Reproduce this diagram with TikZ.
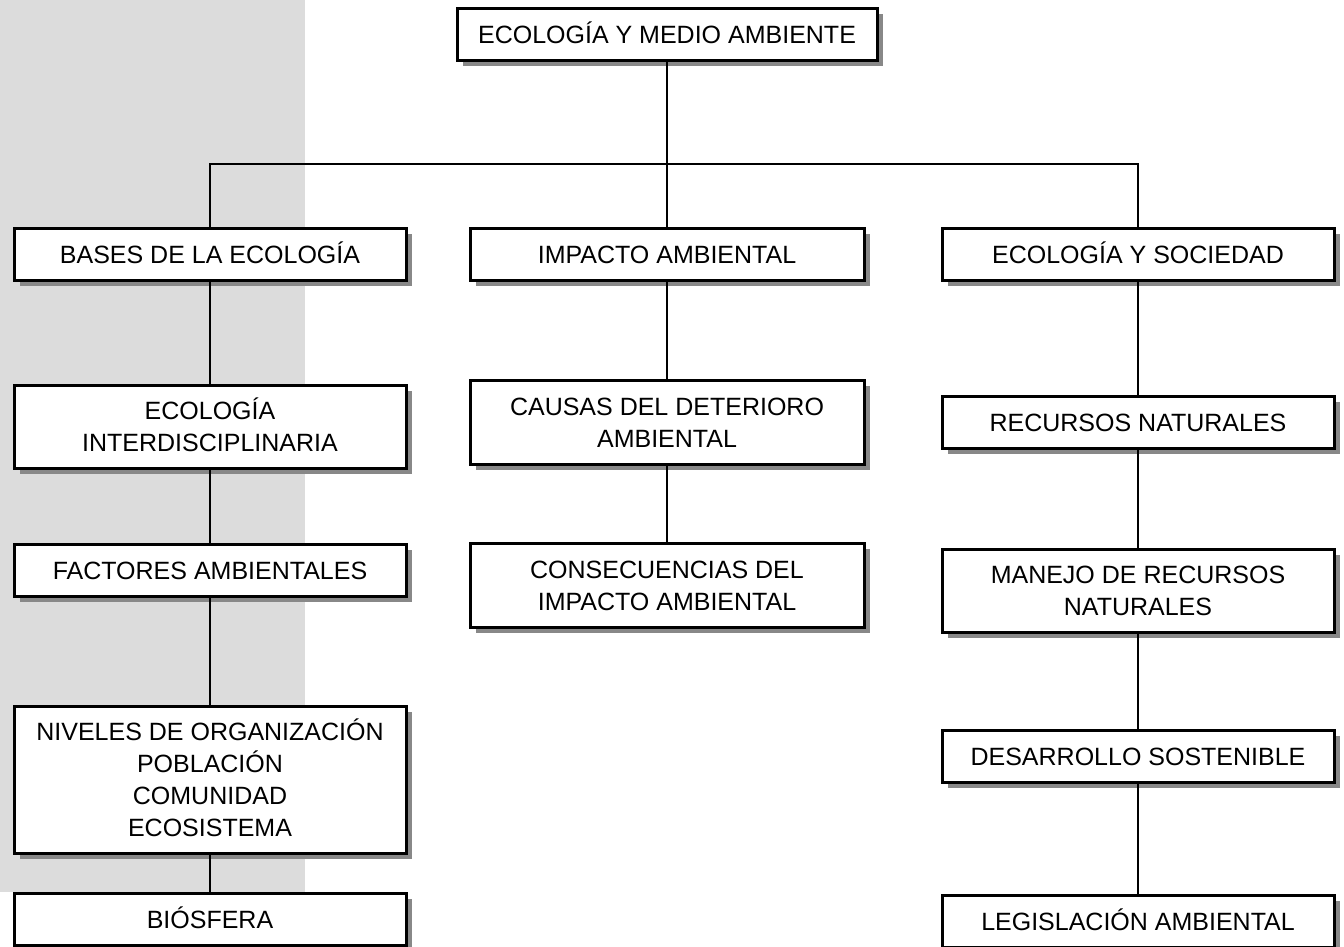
\documentclass[tikz,border=0pt]{standalone}
\usepackage{fontspec}
\setmainfont{Liberation Sans}
\usetikzlibrary{shadows}
\definecolor{band}{HTML}{DCDCDC}
\definecolor{shade}{HTML}{888888}
% uniform strut so every box centres its capitals the same way
\newcommand{\capstrut}{\rule[-4pt]{0pt}{26pt}}
\tikzset{
  topic/.style={draw=black, line width=3pt, fill=white, align=center,
    inner sep=0pt, minimum height=52pt,
    font=\fontsize{25}{32}\selectfont,
    execute at begin node=\capstrut,
    drop shadow={shadow xshift=5.5pt, shadow yshift=-5.5pt, fill=shade, opacity=1}},
  % multi-line text: capitals of first line to baseline of last, plus equal margins
  twolines/.style={text height=54pt, text depth=4pt},
  fourlines/.style={text height=118pt, text depth=4pt},
  leftbox/.style={topic, minimum width=392pt},
  midbox/.style={topic, minimum width=394pt},
  rightbox/.style={topic, minimum width=392pt},
  link/.style={draw=black, line width=2.6pt}
}
\begin{document}
\begin{tikzpicture}[x=1pt,y=-1pt]
\useasboundingbox (0,0) rectangle (1344,947);
% shaded band behind the first branch
\fill[band] (0,0) rectangle (305,892);

% root
\node[topic, minimum width=420pt] (root) at (667,34.5) {ECOLOGÍA Y MEDIO AMBIENTE};

% first branch
\node[leftbox] (bases) at (210,254.5) {BASES DE LA ECOLOGÍA};
\node[leftbox, twolines, minimum height=83pt] (inter) at (210,426.5) {ECOLOGÍA\\INTERDISCIPLINARIA};
\node[leftbox] (fact) at (210,570) {FACTORES AMBIENTALES};
\node[leftbox, fourlines, minimum height=147pt] (nivel) at (210,779.5) {NIVELES DE ORGANIZACIÓN\\POBLACIÓN\\COMUNIDAD\\ECOSISTEMA};
\node[leftbox] (bios) at (210,919.5) {BIÓSFERA};

% second branch
\node[midbox] (impact) at (667,254.5) {IMPACTO AMBIENTAL};
\node[midbox, twolines, minimum height=84pt] (causas) at (667,422) {CAUSAS DEL DETERIORO\\AMBIENTAL};
\node[midbox, twolines, minimum height=84pt] (conse) at (667,585) {CONSECUENCIAS DEL\\IMPACTO AMBIENTAL};

% third branch
\node[rightbox] (soc) at (1138,254.5) {ECOLOGÍA Y SOCIEDAD};
\node[rightbox] (recur) at (1138,422.5) {RECURSOS NATURALES};
\node[rightbox, twolines, minimum height=83pt] (manejo) at (1138,590.5) {MANEJO DE RECURSOS\\NATURALES};
\node[rightbox] (desa) at (1138,756.5) {DESARROLLO SOSTENIBLE};
\node[rightbox] (legis) at (1138,921.5) {LEGISLACIÓN AMBIENTAL};

% connectors
\coordinate (bus) at (667,164);
\draw[link] (root.south) -- (impact.north);
\draw[link] (bases.north) |- (bus) -| (soc.north);

\draw[link] (bases.south) -- (inter.north);
\draw[link] (inter.south) -- (fact.north);
\draw[link] (fact.south) -- (nivel.north);
\draw[link] (nivel.south) -- (bios.north);

\draw[link] (impact.south) -- (causas.north);
\draw[link] (causas.south) -- (conse.north);

\draw[link] (soc.south) -- (recur.north);
\draw[link] (recur.south) -- (manejo.north);
\draw[link] (manejo.south) -- (desa.north);
\draw[link] (desa.south) -- (legis.north);
\end{tikzpicture}
\end{document}
